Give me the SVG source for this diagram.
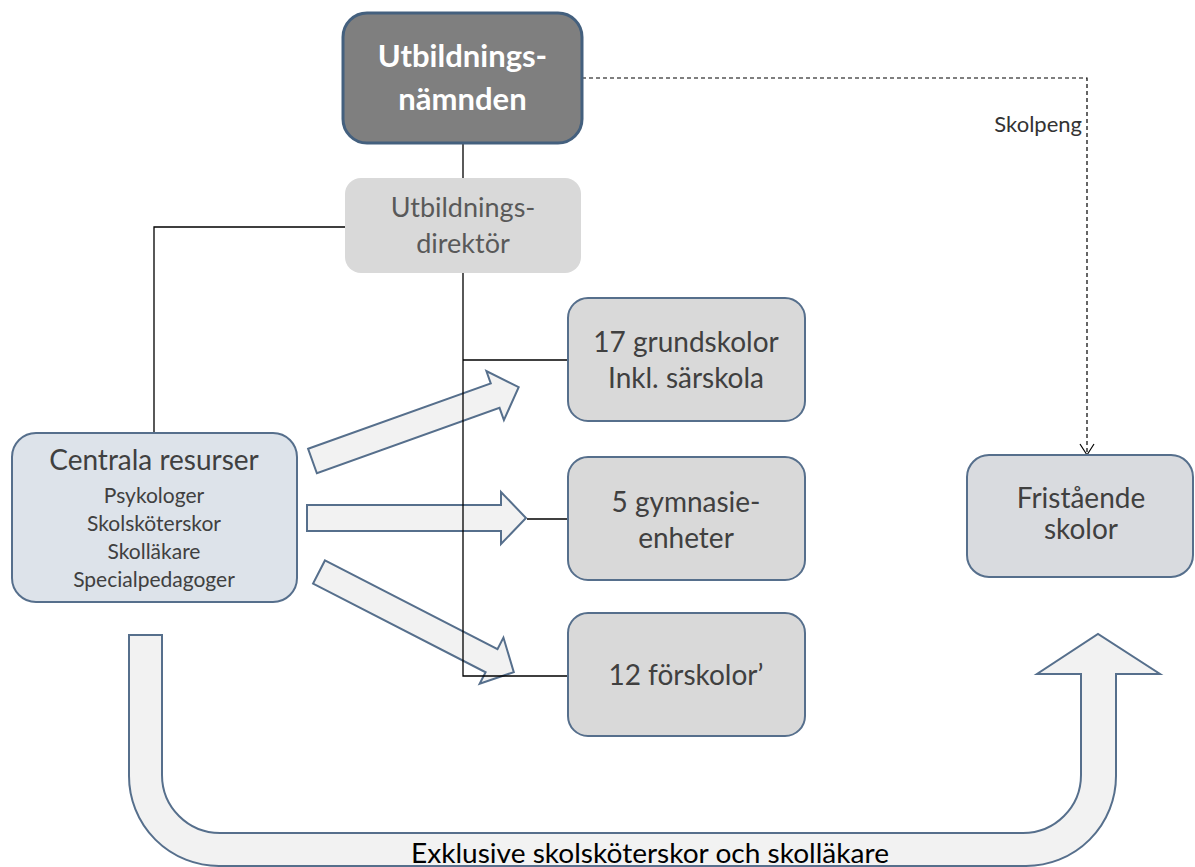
<svg xmlns="http://www.w3.org/2000/svg" width="1195" height="867" viewBox="0 0 1195 867">
<style>
text{font-family:Lato,"Liberation Sans",sans-serif;text-anchor:middle}
.box{fill:#d9d9d9;stroke:#566f8c;stroke-width:2}
.t{fill:#404040;font-size:28px}
.s{fill:#404040;font-size:21px}
.blk{fill:#f2f2f2;stroke:#566f8c;stroke-width:2;stroke-linejoin:miter}
.ln{fill:none;stroke:#000;stroke-width:1.3}
</style>
<defs>
<polygon id="blkArrow" points="0,-13 194,-13 194,-26 219,0 194,26 194,13 0,13"/>
<marker id="vee" markerWidth="14" markerHeight="16" refX="12" refY="8" orient="auto" markerUnits="userSpaceOnUse" viewBox="0 0 14 16">
<path d="M1,1 L12,8 L1,15" fill="none" stroke="#000" stroke-width="1.2"/>
</marker>
</defs>
<rect width="1195" height="867" fill="#fff"/>

<g id="block-arrows">
<use href="#blkArrow" class="blk" transform="translate(312.5,461) rotate(-19.7)"/>
<use href="#blkArrow" class="blk" transform="translate(307,518)"/>
<use href="#blkArrow" class="blk" transform="translate(319,572) rotate(27.2)"/>
<path class="blk" d="M129,635 V776 A90,90 0 0 0 219,866 H1026 A90,90 0 0 0 1116,776 V674 H1160 L1098,634 L1037,674 H1081 V775 A58,58 0 0 1 1023,833 H220 A58,58 0 0 1 162,775 V635 Z"/>
</g>

<g id="connectors">
<path class="ln" d="M463,143 V178"/>
<path class="ln" d="M463,273 V676 H568"/>
<path class="ln" d="M463,360 H568"/>
<path class="ln" d="M527,519 H568"/>
<path class="ln" d="M345,227 H154 V433"/>
<path d="M582,78 H1087 V455" fill="none" stroke="#000" stroke-width="1.2" stroke-dasharray="4,3" marker-end="url(#vee)"/>
</g>

<g id="utbildningsnamnden">
<rect x="343" y="13" width="239" height="130" rx="24" fill="#7f7f7f" stroke="#44607e" stroke-width="3"/>
<text x="462.5" y="67" fill="#fff" font-size="31" font-weight="bold">Utbildnings-</text>
<text x="462.5" y="110" fill="#fff" font-size="31" font-weight="bold">nämnden</text>
</g>

<g id="utbildningsdirektor">
<rect x="345" y="178" width="236" height="95" rx="16" fill="#d9d9d9"/>
<text x="463" y="217" fill="#595959" font-size="27">Utbildnings-</text>
<text x="463" y="253" fill="#595959" font-size="27">direktör</text>
</g>

<g id="grundskolor">
<rect class="box" x="568" y="298" width="237" height="123" rx="20"/>
<text class="t" x="686" y="352">17 grundskolor</text>
<text class="t" x="686" y="388">Inkl. särskola</text>
</g>

<g id="gymnasie">
<rect class="box" x="568" y="457" width="237" height="123" rx="20"/>
<text class="t" x="686" y="512">5 gymnasie-</text>
<text class="t" x="686" y="548">enheter</text>
</g>

<g id="forskolor">
<rect class="box" x="568" y="613" width="237" height="123" rx="20"/>
<text class="t" x="686" y="685">12 förskolor’</text>
</g>

<g id="centrala">
<rect x="12" y="433" width="285" height="169" rx="24" fill="#dde3ea" stroke="#566f8c" stroke-width="2"/>
<text x="154" y="470" fill="#404040" font-size="28">Centrala resurser</text>
<text class="s" x="154" y="503">Psykologer</text>
<text class="s" x="154" y="531">Skolsköterskor</text>
<text class="s" x="154" y="559">Skolläkare</text>
<text class="s" x="154" y="587">Specialpedagoger</text>
</g>

<g id="fristaende">
<rect x="967" y="455" width="226" height="122" rx="22" fill="#d9dbdf" stroke="#566f8c" stroke-width="2"/>
<text class="t" x="1081" y="508">Fristående</text>
<text class="t" x="1081" y="539">skolor</text>
</g>

<text x="1082" y="132" fill="#333" font-size="22" style="text-anchor:end">Skolpeng</text>
<text x="650" y="863" fill="#000" font-size="26" textLength="478" lengthAdjust="spacingAndGlyphs">Exklusive  skolsköterskor  och skolläkare</text>
</svg>
